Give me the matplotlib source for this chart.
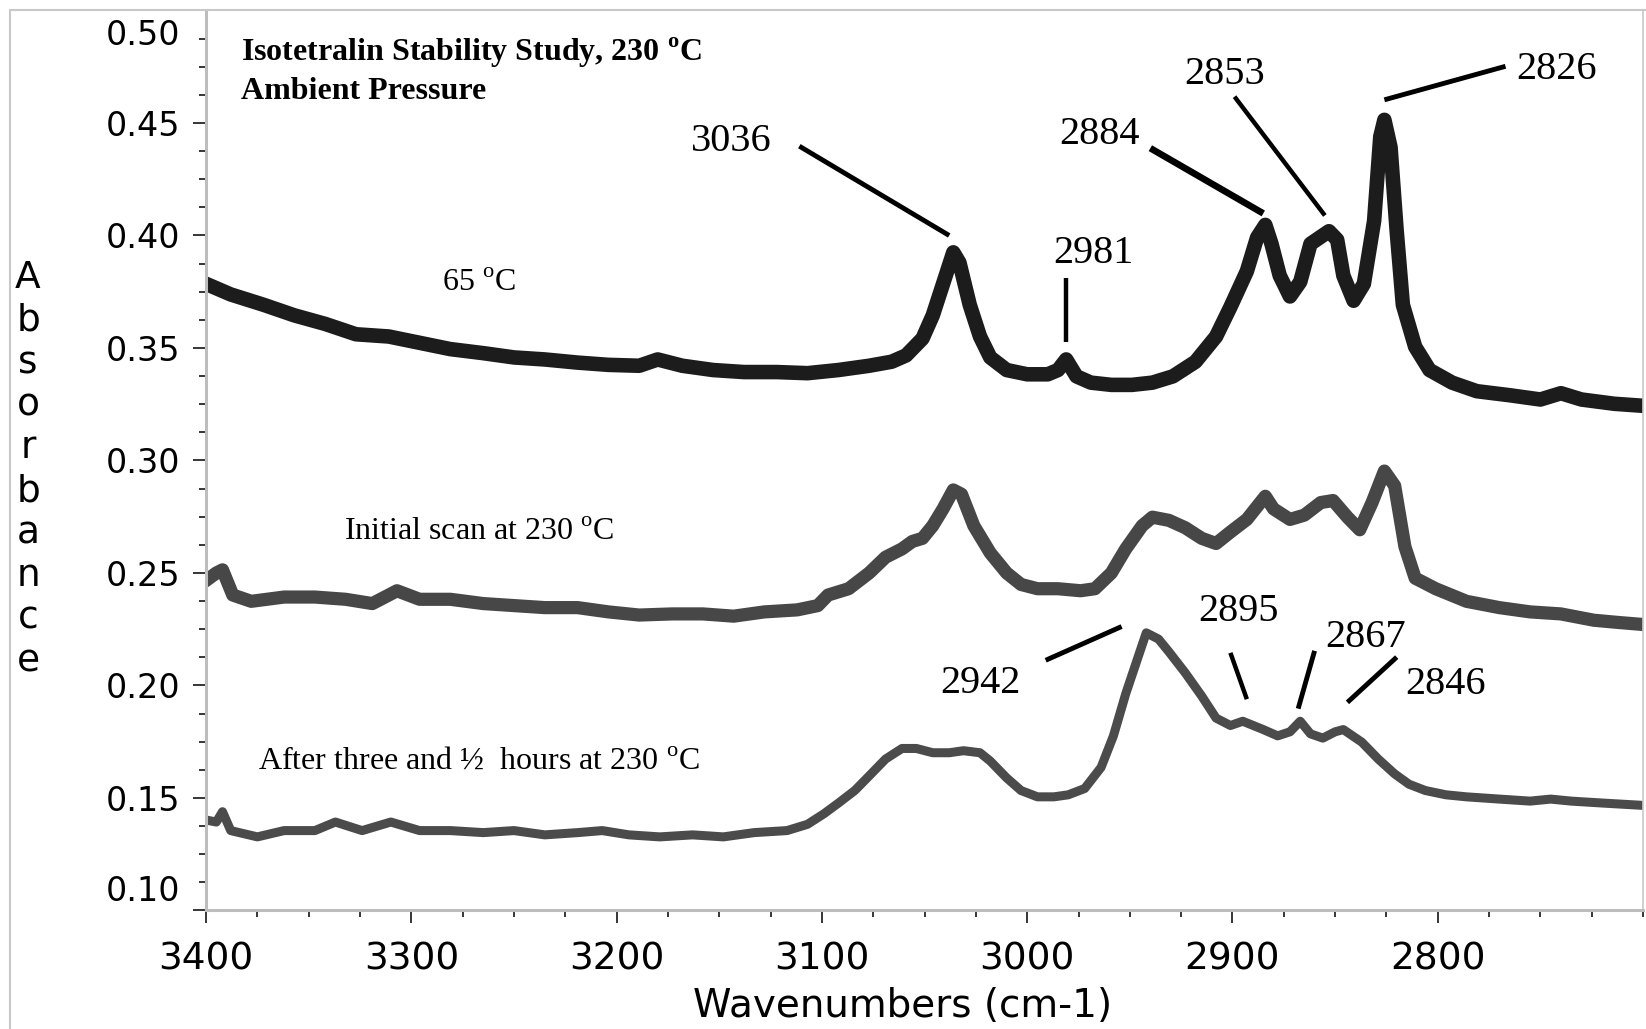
import matplotlib
matplotlib.use("Agg")
import matplotlib.pyplot as plt
from matplotlib.patches import Rectangle
from matplotlib.ticker import FixedLocator, MultipleLocator
from matplotlib.transforms import ScaledTranslation

plt.rcParams['font.family'] = 'DejaVu Sans'
plt.rcParams['mathtext.fontset'] = 'custom'
plt.rcParams['mathtext.rm'] = 'Liberation Serif'
plt.rcParams['mathtext.bf'] = 'Liberation Serif:bold'

SERIF = 'Liberation Serif'

# spectrum at 65 C
wn_65 = [3400, 3388, 3372, 3357, 3342, 3327, 3311, 3296, 3281, 3265, 3250, 3235, 3219, 3204,
         3189, 3180, 3168, 3153, 3138, 3122, 3107, 3092, 3077, 3066, 3059, 3051, 3046, 3041,
         3036, 3033, 3028, 3023, 3018, 3010, 3000, 2990, 2985, 2981, 2976, 2969, 2959, 2949,
         2939, 2929, 2918, 2908, 2901, 2893, 2888, 2884, 2881, 2877, 2872, 2867, 2862, 2853,
         2849, 2846, 2841, 2836, 2831, 2828, 2826, 2823, 2820, 2817, 2811, 2804, 2793, 2781,
         2765, 2750, 2740, 2730, 2714, 2700]
abs_65 = [0.3785, 0.3738, 0.3692, 0.3645, 0.3607, 0.3561, 0.3551, 0.3523, 0.3495, 0.3477,
          0.3458, 0.3449, 0.3435, 0.3425, 0.3421, 0.3449, 0.3421, 0.3402, 0.3393, 0.3393,
          0.3388, 0.3402, 0.3421, 0.3439, 0.3467, 0.3542, 0.3645, 0.3785, 0.3925, 0.3879,
          0.3692, 0.3551, 0.3458, 0.3402, 0.3383, 0.3383, 0.3402, 0.3449, 0.3374, 0.3346,
          0.3336, 0.3336, 0.3346, 0.3374, 0.3439, 0.3551, 0.3682, 0.3841, 0.3991, 0.4047,
          0.3963, 0.3822, 0.3729, 0.3794, 0.3963, 0.4019, 0.3981, 0.3822, 0.3710, 0.3785,
          0.4065, 0.4439, 0.4514, 0.4392, 0.4019, 0.3692, 0.3505, 0.3402, 0.3346, 0.3308,
          0.3290, 0.3271, 0.3299, 0.3271, 0.3252, 0.3243]

# first scan at 230 C
wn_init = [3400, 3395, 3392, 3387, 3378, 3362, 3347, 3332, 3319, 3307, 3296, 3281, 3265, 3250,
           3235, 3219, 3204, 3189, 3173, 3158, 3143, 3128, 3112, 3102, 3097, 3087, 3077, 3069,
           3061, 3056, 3051, 3046, 3041, 3036, 3032, 3026, 3018, 3010, 3003, 2995, 2985, 2974,
           2967, 2959, 2952, 2944, 2939, 2931, 2923, 2915, 2908, 2901, 2893, 2884, 2880, 2872,
           2865, 2857, 2851, 2844, 2838, 2832, 2826, 2821, 2816, 2811, 2801, 2786, 2770, 2755,
           2740, 2724, 2712, 2700]
abs_init = [0.2467, 0.2500, 0.2514, 0.2402, 0.2374, 0.2393, 0.2393, 0.2383, 0.2364, 0.2421,
            0.2383, 0.2383, 0.2364, 0.2355, 0.2346, 0.2346, 0.2327, 0.2313, 0.2318, 0.2318,
            0.2308, 0.2327, 0.2336, 0.2355, 0.2402, 0.2430, 0.2500, 0.2570, 0.2607, 0.2640,
            0.2654, 0.2710, 0.2785, 0.2869, 0.2850, 0.2710, 0.2589, 0.2500, 0.2449, 0.2430,
            0.2430, 0.2421, 0.2430, 0.2500, 0.2607, 0.2710, 0.2748, 0.2734, 0.2701, 0.2654,
            0.2631, 0.2682, 0.2738, 0.2841, 0.2785, 0.2738, 0.2757, 0.2813, 0.2822, 0.2748,
            0.2692, 0.2813, 0.2953, 0.2888, 0.2617, 0.2477, 0.2430, 0.2374, 0.2346, 0.2327,
            0.2318, 0.2290, 0.2280, 0.2271]

# after 3.5 h at 230 C
wn_late = [3400, 3395, 3392, 3388, 3375, 3362, 3347, 3337, 3324, 3310, 3296, 3281, 3265, 3250,
           3235, 3219, 3207, 3194, 3179, 3163, 3148, 3133, 3117, 3107, 3099, 3092, 3084, 3077,
           3069, 3061, 3054, 3046, 3038, 3031, 3023, 3018, 3010, 3003, 2995, 2987, 2980, 2972,
           2964, 2958, 2952, 2946, 2942, 2936, 2931, 2923, 2915, 2908, 2901, 2895, 2885, 2878,
           2872, 2867, 2862, 2856, 2850, 2846, 2837, 2829, 2821, 2814, 2806, 2796, 2786, 2770,
           2755, 2745, 2735, 2719, 2700]
abs_late = [0.1402, 0.1393, 0.1439, 0.1355, 0.1327, 0.1355, 0.1355, 0.1393, 0.1355, 0.1393,
            0.1355, 0.1355, 0.1346, 0.1355, 0.1336, 0.1346, 0.1355, 0.1336, 0.1327, 0.1336,
            0.1327, 0.1346, 0.1355, 0.1383, 0.1430, 0.1477, 0.1533, 0.1598, 0.1673, 0.1720,
            0.1720, 0.1701, 0.1701, 0.1710, 0.1701, 0.1664, 0.1589, 0.1533, 0.1505, 0.1505,
            0.1514, 0.1542, 0.1636, 0.1776, 0.1963, 0.2126, 0.2234, 0.2206, 0.2150, 0.2056,
            0.1953, 0.1855, 0.1822, 0.1841, 0.1804, 0.1776, 0.1794, 0.1841, 0.1785, 0.1766,
            0.1794, 0.1804, 0.1748, 0.1673, 0.1607, 0.1561, 0.1533, 0.1514, 0.1505, 0.1495,
            0.1486, 0.1495, 0.1486, 0.1477, 0.1467]

peaks_65 = [3036, 2981, 2884, 2853, 2826]
peaks_late = [2942, 2895, 2867, 2846]

ytick_vals = [0.10, 0.15, 0.20, 0.25, 0.30, 0.35, 0.40, 0.45, 0.50]
xtick_vals = [3400, 3300, 3200, 3100, 3000, 2900, 2800]

# where each peak number sits and where its leader line runs (data coords)
label_layout = {
    3036: ((3144, 0.4416), (3111, 0.4397), (3038, 0.4000), 3.5),
    2981: ((2968, 0.3921), (2981, 0.3813), (2981, 0.3528), 3.2),
    2884: ((2965, 0.4449), (2940, 0.4388), (2885, 0.4098), 4.8),
    2853: ((2904, 0.4715), (2899, 0.4617), (2855, 0.4089), 3.2),
    2826: ((2742, 0.4738), (2826, 0.4603), (2767, 0.4752), 3.5),
    2942: ((3023, 0.2009), (2991, 0.2112), (2954, 0.2262), 3.5),
    2895: ((2897, 0.2327), (2901, 0.2145), (2893, 0.1939), 3.2),
    2867: ((2835, 0.2215), (2860, 0.2154), (2868, 0.1897), 3.5),
    2846: ((2796, 0.2005), (2820, 0.2126), (2844, 0.1925), 3.5),
}

deg = r'$^{\mathrm{o}}$'
deg_bold = r'$^{\mathbf{o}}$'

fig = plt.figure(figsize=(16.46, 10.29), dpi=100)
ax = fig.add_axes([0.1252, 0.1152, 0.873, 0.8746])

ax.plot(wn_late, abs_late, color='#4b4b4b', lw=6.5, solid_joinstyle='round')
ax.plot(wn_init, abs_init, color='#474747', lw=9.5, solid_joinstyle='round')
ax.plot(wn_65, abs_65, color='#1c1c1c', lw=10.5, solid_joinstyle='round')

ax.set_xlim(3400, 2700)
ax.set_ylim(0.10, 0.50)

for spine in ['left', 'bottom']:
    ax.spines[spine].set_color('#bdbdbd')
    ax.spines[spine].set_linewidth(2.2)
ax.spines['top'].set_visible(False)
ax.spines['right'].set_color('#c8c8c8')
ax.spines['right'].set_linewidth(1.2)

ax.xaxis.set_major_locator(FixedLocator(xtick_vals))
ax.xaxis.set_minor_locator(MultipleLocator(25))
ax.yaxis.set_major_locator(FixedLocator(ytick_vals))
ax.yaxis.set_minor_locator(MultipleLocator(0.0125))
ax.set_yticklabels([f'{v:.2f}' for v in ytick_vals])
ax.set_xticklabels([str(v) for v in xtick_vals])

ax.tick_params(axis='both', which='both', direction='out', color='black', width=1.1)
ax.tick_params(axis='both', which='major', length=9.5)
ax.tick_params(axis='both', which='minor', length=5)
ax.tick_params(axis='y', which='major', labelsize=24, pad=9)
ax.tick_params(axis='x', which='major', labelsize=27, pad=13)

# end labels sit a little inside the axis range
yticks = ax.yaxis.get_major_ticks()
yticks[0].label1.set_transform(yticks[0].label1.get_transform()
                               + ScaledTranslation(0, 0.22, fig.dpi_scale_trans))
yticks[-1].label1.set_transform(yticks[-1].label1.get_transform()
                                + ScaledTranslation(0, -0.215, fig.dpi_scale_trans))

ax.set_xlabel('Wavenumbers (cm-1)', fontsize=28)
ax.xaxis.set_label_coords(0.485, -0.085)

# stacked y-axis title
for i, ch in enumerate('Absorbance'):
    fig.text(28 / 1646, 1 - (278 + i * 42.6) / 1029, ch, ha='center', va='center', fontsize=27)

ax.text(3383, 0.4813, 'Isotetralin Stability Study, 230 ' + deg_bold + 'C', family=SERIF,
        fontweight='bold', fontsize=23, ha='left', va='center')
ax.text(3383, 0.4640, 'Ambient Pressure', family=SERIF, fontweight='bold', fontsize=23,
        ha='left', va='center')

ax.text(3267, 0.3785, '65 ' + deg + 'C', family=SERIF, fontsize=23, ha='center', va='center')
ax.text(3267, 0.2682, 'Initial scan at 230 ' + deg + 'C', family=SERIF, fontsize=23,
        ha='center', va='center')
ax.text(3267, 0.1664, 'After three and \u00bd  hours at 230 ' + deg + 'C', family=SERIF,
        fontsize=23, ha='center', va='center')

for peak in peaks_65 + peaks_late:
    (tx, ty), (x0, y0), (x1, y1), lw = label_layout[peak]
    ax.text(tx, ty, str(peak), family=SERIF, fontsize=29, ha='center', va='center')
    ax.plot([x0, x1], [y0, y1], color='black', lw=lw, solid_capstyle='butt')

# light frame around the whole figure
fig.add_artist(Rectangle((10 / 1646, -0.05), 1.1, 1.05 - 10 / 1029, transform=fig.transFigure,
                         fill=False, ec='#c8c8c8', lw=1.5))

fig.savefig('out.png', dpi=100)
